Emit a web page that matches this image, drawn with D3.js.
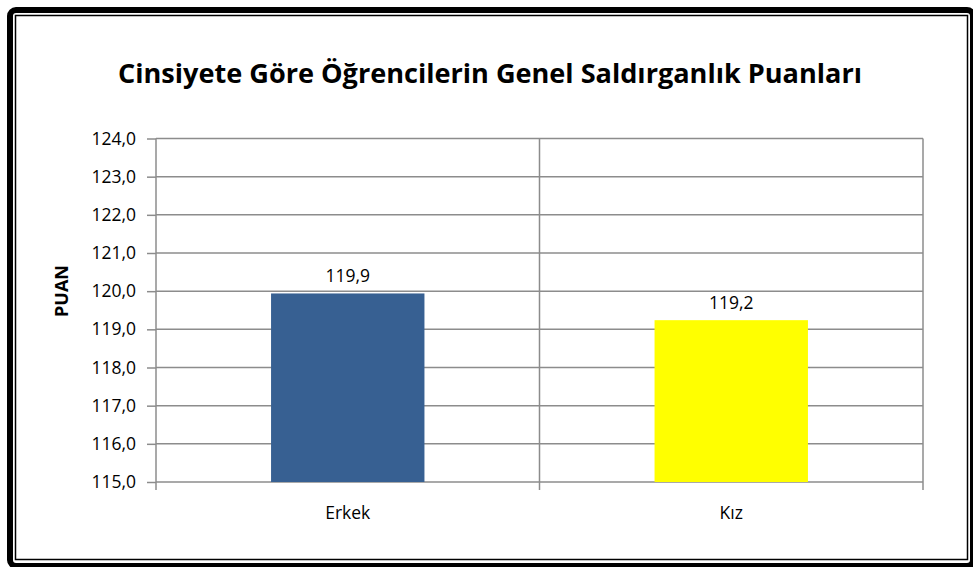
<!DOCTYPE html>
<html lang="tr">
<head>
<meta charset="UTF-8">
<title>Cinsiyete Göre Öğrencilerin Genel Saldırganlık Puanları</title>
<script src="https://d3js.org/d3.v7.min.js"></script>
<style>
    body { margin: 0; background: #fff; }
    text { font-family: "Open Sans", "DejaVu Sans", sans-serif; fill: #000; }
    .title { font-family: "Liberation Sans Narrow", "Open Sans", sans-serif; font-weight: bold; font-size: 27px; }
    .tick text { font-size: 17.5px; }
    .grid line { stroke: #8c8c8c; stroke-width: 1.5px; }
    .domain { stroke: #8c8c8c; stroke-width: 1.5px; }
</style>
</head>
<body>
<svg width="973" height="567"></svg>
<script>
    // chart data
    const categories = ["Erkek", "Kız"];
    const scores = [119.94, 119.24];
    const barColors = ["#376092", "#ffff00"];
    const yTicks = [115, 116, 117, 118, 119, 120, 121, 122, 123, 124];
    const chartTitle = "Cinsiyete Göre Öğrencilerin Genel Saldırganlık Puanları";
    const yLabel = "PUAN";

    const svg = d3.select("svg");
    const fmt = v => v.toFixed(1).replace(".", ",");

    // double frame round the chart
    svg.append("rect")
        .attr("x", 10).attr("y", 10)
        .attr("width", 963).attr("height", 556)
        .attr("rx", 6)
        .attr("fill", "none").attr("stroke", "#000").attr("stroke-width", 6);
    svg.append("rect")
        .attr("x", 15.5).attr("y", 15.5)
        .attr("width", 952).attr("height", 544)
        .attr("fill", "none").attr("stroke", "#000").attr("stroke-width", 1.5);

    const plot = { left: 156, right: 923, top: 138.5, bottom: 482 };

    const x = d3.scaleBand()
        .domain(categories)
        .range([plot.left, plot.right])
        .paddingInner(0).paddingOuter(0);

    const y = d3.scaleLinear()
        .domain([115, 124])
        .range([plot.bottom, plot.top]);

    // horizontal gridlines
    svg.append("g")
        .attr("class", "grid")
        .selectAll("line")
        .data(yTicks)
        .enter().append("line")
        .attr("x1", plot.left).attr("x2", plot.right)
        .attr("y1", d => y(d)).attr("y2", d => y(d));

    // vertical gridlines at the category boundaries (incl. right edge)
    const bounds = categories.map(c => x(c)).concat([x(categories[categories.length - 1]) + x.bandwidth()]);
    svg.append("g")
        .attr("class", "grid")
        .selectAll("line")
        .data(bounds.slice(1))
        .enter().append("line")
        .attr("x1", d => d).attr("x2", d => d)
        .attr("y1", plot.top).attr("y2", plot.bottom);

    // y axis
    const yAxis = svg.append("g")
        .attr("transform", `translate(${plot.left},0)`)
        .call(d3.axisLeft(y).tickValues(yTicks).tickFormat(fmt).tickSize(9).tickPadding(11));
    yAxis.selectAll(".tick line").attr("stroke", "#8c8c8c").attr("stroke-width", 1.5);
    yAxis.select(".domain").attr("d", `M0,${plot.top}V${plot.bottom}`);

    // x axis with ticks at the category boundaries
    const xAxis = svg.append("g")
        .attr("transform", `translate(0,${plot.bottom})`)
        .call(d3.axisBottom(x).tickSize(0).tickPadding(25));
    xAxis.select(".domain").remove();
    xAxis.selectAll(".bound")
        .data(bounds)
        .enter().append("line")
        .attr("x1", d => d).attr("x2", d => d)
        .attr("y1", 0).attr("y2", 8)
        .attr("stroke", "#8c8c8c").attr("stroke-width", 1.5);

    // bars
    const barW = x.bandwidth() / 2.5;
    svg.append("g").selectAll("rect")
        .data(categories)
        .enter().append("rect")
        .attr("x", d => x(d) + (x.bandwidth() - barW) / 2)
        .attr("y", (d, i) => y(scores[i]))
        .attr("width", barW)
        .attr("height", (d, i) => y(115) - y(scores[i]))
        .attr("fill", (d, i) => barColors[i]);

    // value labels
    svg.append("g").selectAll("text")
        .data(categories)
        .enter().append("text")
        .attr("x", d => x(d) + x.bandwidth() / 2)
        .attr("y", (d, i) => y(scores[i]) - 11)
        .attr("text-anchor", "middle")
        .style("font-size", "17.5px")
        .text((d, i) => fmt(scores[i]));

    // title
    svg.append("text")
        .attr("class", "title")
        .attr("x", 490).attr("y", 83)
        .attr("text-anchor", "middle")
        .attr("textLength", 744)
        .attr("lengthAdjust", "spacingAndGlyphs")
        .text(chartTitle);

    // y axis title
    svg.append("text")
        .attr("transform", "translate(68,291) rotate(-90)")
        .attr("text-anchor", "middle")
        .style("font-weight", "bold")
        .style("font-size", "18px")
        .text(yLabel);
</script>
</body>
</html>
